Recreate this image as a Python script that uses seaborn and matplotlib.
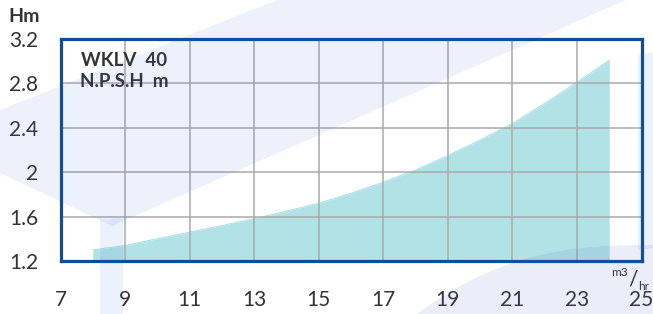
import numpy as np
import matplotlib
matplotlib.use("Agg")
import matplotlib.pyplot as plt
from matplotlib.patches import Polygon
import seaborn as sns

# data
flow = [8, 9, 10, 11, 12, 13, 14, 15, 16, 17, 18, 19, 20, 21, 22, 23, 24]
npsh = [1.30, 1.34, 1.40, 1.46, 1.52, 1.58, 1.65, 1.72, 1.81, 1.91,
        2.02, 2.15, 2.29, 2.44, 2.62, 2.81, 3.01]
x_ticks = [7, 9, 11, 13, 15, 17, 19, 21, 23, 25]
y_ticks = [1.2, 1.6, 2.0, 2.4, 2.8, 3.2]
y_labels = ["1.2", "1.6", "2", "2.4", "2.8", "3.2"]
title_lines = ["WKLV  40", "N.P.S.H  m"]

W, H = 653, 314
sns.set_style("white")
plt.rcParams['font.family'] = ['Lato', 'DejaVu Sans']

fig = plt.figure(figsize=(W / 100, H / 100), dpi=100)
ax = fig.add_axes([60.5 / W, 1 - 261 / H, 581 / W, 222 / H])

fill_col = "#b0e2e6"
sns.lineplot(x=flow, y=npsh, ax=ax, color=fill_col, lw=0.8, zorder=2)
ax.fill_between(flow, 1.2, npsh, color=fill_col, lw=0, zorder=2)

ax.set_xlim(7, 25)
ax.set_ylim(1.2, 3.2)
ax.set_xticks(x_ticks)
ax.set_yticks(y_ticks)
ax.set_yticklabels(y_labels)
ax.tick_params(axis="y", length=0, pad=16, labelsize=15, labelcolor="#333333")
ax.tick_params(axis="x", length=0, pad=21, labelsize=15, labelcolor="#333333")
ax.grid(True, color="#a9a9a9", lw=1.1, zorder=3)
ax.set_axisbelow(False)
for s in ax.spines.values():
    s.set_color("#124c92")
    s.set_linewidth(2.3)
    s.set_zorder(5)
ax.set_xlabel("")
ax.set_ylabel("")

ax.text(0.109, 0.94, title_lines[0] + "\n" + title_lines[1], transform=ax.transAxes,
        ha="center", va="top", fontsize=13.5, fontweight="bold", color="#333333",
        linespacing=1.25, zorder=6)

fig.text(8 / W, 1 - 16 / H, "Hm", ha="left", va="center", fontsize=14,
         fontweight="bold", color="#333333")
fig.text(611 / W, 1 - 272 / H, "m3", ha="left", va="center", fontsize=8.5, color="#333333")
fig.text(628 / W, 1 - 280 / H, "/", ha="left", va="center", fontsize=15, color="#333333")
fig.text(638 / W, 1 - 286 / H, "hr", ha="left", va="center", fontsize=8.5, color="#333333")


# light watermark shapes in pixel coords
def px(points):
    return [(x / W, 1 - y / H) for x, y in points]


wm = dict(facecolor=(0.2, 0.42, 0.86), alpha=0.09, lw=0, transform=fig.transFigure, zorder=10)
fig.add_artist(Polygon(px([(0, 110), (277, 0), (626, 0), (112, 226), (0, 173)]), **wm))
fig.add_artist(Polygon(px([(100, 220), (123, 218), (123, 314), (100, 314)]), **wm))
fig.add_artist(Polygon(px([(638, 55), (653, 52), (653, 248), (638, 250)]), **wm))
t = np.linspace(0, 1, 30)
arc_x = 417 + (653 - 417) * t
arc_y = 245 + 69 * (1 - t) ** 2.6
fig.add_artist(Polygon(px(list(zip(arc_x, arc_y)) + [(653, 314), (417, 314)]),
                       facecolor=(0.3, 0.38, 0.8), alpha=0.11, lw=0,
                       transform=fig.transFigure, zorder=10))

fig.savefig("out.png", dpi=100)
